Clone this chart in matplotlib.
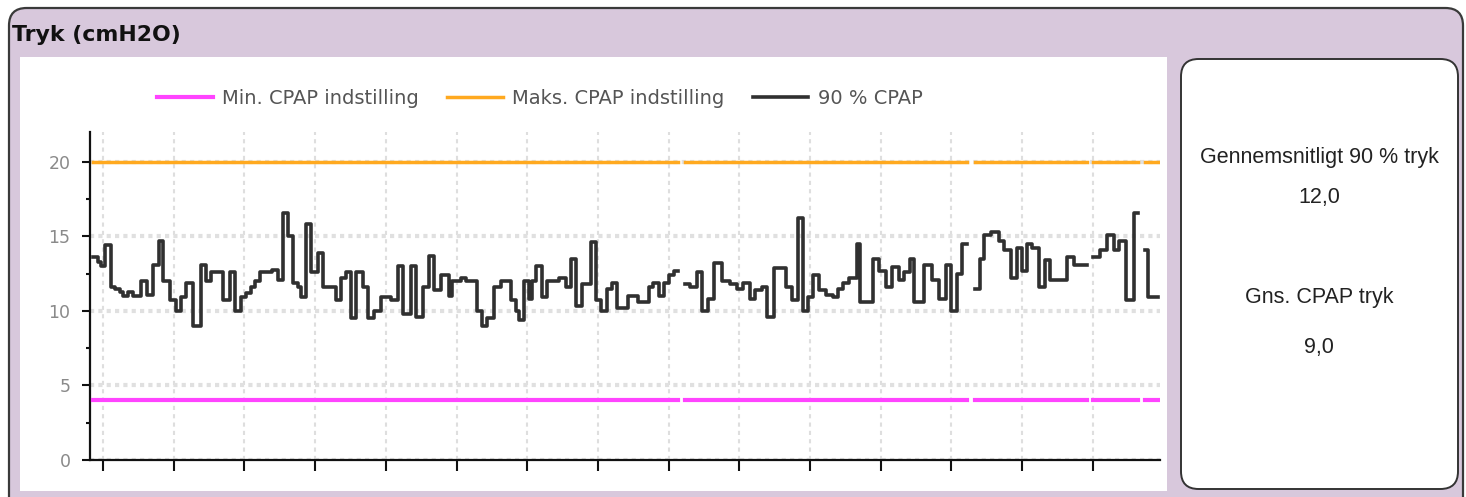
import numpy as np
import matplotlib
matplotlib.use("Agg")
import matplotlib.pyplot as plt
from matplotlib.patches import FancyBboxPatch, Rectangle

nan = np.nan

# ---------------- data ----------------
title = "Tryk (cmH2O)"
legend_labels = ["Min. CPAP indstilling", "Maks. CPAP indstilling", "90 % CPAP"]
min_setting = 4.0
max_setting = 20.0
y_ticks = [0, 5, 10, 15, 20]
x_ticks = list(range(15))          # one tick per night (days)

# (time in days, 90 % pressure) step points; nan marks end of a recording
night1 = [(-0.14, 13.6), (-0.07, 13.3), (-0.03, 13.0), (0.03, 14.4), (0.11, 11.6), (0.17, 11.5),
          (0.24, 11.25), (0.28, 11.0), (0.35, 11.25), (0.42, 11.0), (0.54, 12.0), (0.62, 11.1),
          (0.71, 13.1), (0.79, 14.7), (0.85, 12.0), (0.95, 10.7), (1.03, 10.0), (1.10, 10.9),
          (1.17, 11.9), (1.27, 9.0), (1.39, 13.1), (1.46, 12.0), (1.53, 12.6), (1.70, 10.7),
          (1.80, 12.6), (1.87, 10.0), (1.95, 10.9), (2.02, 11.2), (2.09, 11.6), (2.15, 12.0),
          (2.22, 12.6), (2.39, 12.75), (2.48, 12.1), (2.55, 16.6), (2.62, 15.0), (2.69, 11.9),
          (2.76, 11.6), (2.80, 10.9), (2.87, 15.8), (2.94, 12.6), (3.04, 13.9), (3.11, 11.6),
          (3.30, 10.7), (3.37, 12.2), (3.44, 12.6), (3.51, 9.5), (3.58, 12.6), (3.68, 11.6),
          (3.75, 9.5), (3.83, 10.0), (3.93, 10.9), (4.07, 10.7), (4.17, 13.0), (4.24, 9.8),
          (4.36, 13.0), (4.43, 9.6), (4.53, 11.6), (4.61, 13.7), (4.68, 11.4), (4.78, 12.4),
          (4.89, 11.0), (4.94, 12.0), (5.06, 12.2), (5.13, 12.0), (5.29, 10.0), (5.36, 9.0),
          (5.43, 9.5), (5.53, 11.6), (5.63, 12.0), (5.77, 10.7), (5.84, 10.0), (5.88, 9.4),
          (5.95, 12.0), (6.03, 10.8), (6.07, 12.0), (6.12, 13.0), (6.21, 10.9), (6.28, 12.0),
          (6.45, 12.2), (6.55, 11.6), (6.62, 13.5), (6.69, 10.3), (6.78, 11.8), (6.90, 14.6),
          (6.97, 10.7), (7.04, 10.0), (7.13, 11.5), (7.20, 11.9), (7.27, 10.2), (7.43, 11.0),
          (7.57, 10.6), (7.72, 11.6), (7.78, 11.9), (7.86, 11.0), (7.93, 11.9), (8.01, 12.4),
          (8.08, 12.7), (8.13, nan)]
night2 = [(8.23, 11.8), (8.30, 11.6), (8.40, 12.6), (8.47, 10.0), (8.56, 10.8), (8.64, 13.2),
          (8.76, 12.0), (8.87, 11.8), (8.97, 11.5), (9.05, 11.9), (9.15, 10.8), (9.22, 11.4),
          (9.32, 11.6), (9.39, 9.6), (9.49, 12.9), (9.66, 11.6), (9.75, 10.7), (9.83, 16.2),
          (9.90, 10.0), (9.97, 10.9), (10.04, 12.4), (10.13, 11.4), (10.23, 11.1), (10.33, 10.9),
          (10.40, 11.5), (10.47, 11.9), (10.55, 12.2), (10.66, 14.5), (10.71, 10.6), (10.89, 13.5),
          (10.98, 12.7), (11.07, 11.6), (11.16, 12.95), (11.26, 12.05), (11.33, 12.6), (11.41, 13.5),
          (11.47, 10.6), (11.61, 13.1), (11.73, 12.05), (11.82, 10.8), (11.92, 13.1), (11.99, 10.0),
          (12.08, 12.5), (12.15, 14.5), (12.22, nan)]
night3 = [(12.33, 11.5), (12.40, 13.5), (12.46, 15.1), (12.56, 15.3), (12.67, 14.7), (12.74, 14.1),
          (12.84, 12.2), (12.93, 14.2), (13.00, 12.7), (13.07, 14.5), (13.14, 14.2), (13.24, 11.6),
          (13.32, 13.4), (13.39, 12.05), (13.64, 13.6), (13.73, 13.1), (13.92, nan)]
night4 = [(14.00, 13.6), (14.10, 14.1), (14.20, 15.1), (14.30, 14.1), (14.37, 14.7), (14.47, 10.7),
          (14.58, 16.6), (14.64, nan)]
night5 = [(14.74, 14.1), (14.78, 10.9), (14.92, nan)]

avg90_label = "Gennemsnitligt 90 % tryk"
avg90_value = "12,0"
avgcpap_label = "Gns. CPAP tryk"
avgcpap_value = "9,0"

# ---------------- figure ----------------
W, H = 1466, 497
fig = plt.figure(figsize=(W / 100, H / 100), dpi=100)
fig.patch.set_facecolor("white")

def fx(px):
    return px / W

def fy(py):
    return 1 - py / H

lav = "#D8C8DC"
outer = FancyBboxPatch((fx(9), fy(530)), fx(1454), (530 - 8) / H,
                       boxstyle="round,pad=0,rounding_size=0.012",
                       transform=fig.transFigure, facecolor=lav, edgecolor="#3a3a3a",
                       linewidth=1.6, zorder=0, mutation_aspect=W / H)
fig.patches.append(outer)

white = Rectangle((fx(20), fy(491)), fx(1147), (491 - 57) / H, transform=fig.transFigure,
                  facecolor="white", edgecolor="none", zorder=1)
fig.patches.append(white)

rbox = FancyBboxPatch((fx(1181), fy(489)), fx(277), (489 - 59) / H,
                      boxstyle="round,pad=0,rounding_size=0.012",
                      transform=fig.transFigure, facecolor="white", edgecolor="#333333",
                      linewidth=1.4, zorder=1, mutation_aspect=W / H)
fig.patches.append(rbox)

fig.text(fx(12), fy(35), title, fontsize=15.8, fontweight="bold", color="#111111",
         ha="left", va="center", family="DejaVu Sans", zorder=3)

rfont = ["Liberation Sans", "DejaVu Sans"]
cx = fx(1319)
fs_r = 15.5
fig.text(cx, fy(158), avg90_label, fontsize=fs_r, ha="center", va="center", color="#222222", family=rfont)
fig.text(cx, fy(197), avg90_value, fontsize=fs_r, ha="center", va="center", color="#222222", family=rfont)
fig.text(cx, fy(298), avgcpap_label, fontsize=fs_r, ha="center", va="center", color="#222222", family=rfont)
fig.text(cx, fy(347), avgcpap_value, fontsize=fs_r, ha="center", va="center", color="#222222", family=rfont)

# ---------------- chart ----------------
ax = fig.add_axes([fx(90), fy(460), fx(1160 - 90), (460 - 132) / H])
ax.set_facecolor("none")
ax.set_zorder(2)

nights = night1 + night2 + night3 + night4 + night5
t = np.array([p[0] for p in nights])
p90 = np.array([p[1] for p in nights])
mask = np.isnan(p90)
mins = np.where(mask, nan, min_setting)
maxs = np.where(mask, nan, max_setting)

l_min, = ax.step(t, mins, where="post", color="#FF44FF", lw=3, zorder=3)
l_max, = ax.step(t, maxs, where="post", color="#FFA91F", lw=2.5, zorder=3)
l_p90, = ax.step(t, p90, where="post", color="#303030", lw=2.6, zorder=4)

ax.set_xlim(-0.184, 14.95)
ax.set_ylim(0, 22)
ax.set_xticks(x_ticks)
ax.set_xticklabels([])
ax.set_yticks(y_ticks)
ax.set_yticks([2.5, 7.5, 12.5, 17.5], minor=True)
ax.tick_params(axis="x", direction="out", length=8, width=1.5, color="#111111")
ax.tick_params(axis="y", which="major", direction="out", length=6, width=1.5, color="#111111",
               labelsize=12.5, labelcolor="#8a8a8a", pad=8)
ax.tick_params(axis="y", which="minor", direction="out", length=3, width=1.5, color="#111111")
for s in ["top", "right"]:
    ax.spines[s].set_visible(False)
for s in ["left", "bottom"]:
    ax.spines[s].set_linewidth(1.6)
    ax.spines[s].set_color("#111111")

ax.grid(axis="y", which="major", color="#e0e0e0", linestyle=(0, (1, 1)), linewidth=3, zorder=1)
ax.grid(axis="x", which="major", color="#dedede", linestyle=(0, (2, 2)), linewidth=1.5, zorder=1)
ax.set_axisbelow(True)

leg = fig.legend([l_min, l_max, l_p90], legend_labels, loc="center",
                 bbox_to_anchor=(fx(540), fy(98)), ncol=3, frameon=False,
                 fontsize=14, handlelength=2.85, columnspacing=1.45, handletextpad=0.5)
for txt in leg.get_texts():
    txt.set_color("#555555")
leg.set_zorder(5)

fig.savefig("out.png", dpi=100, facecolor="white")
